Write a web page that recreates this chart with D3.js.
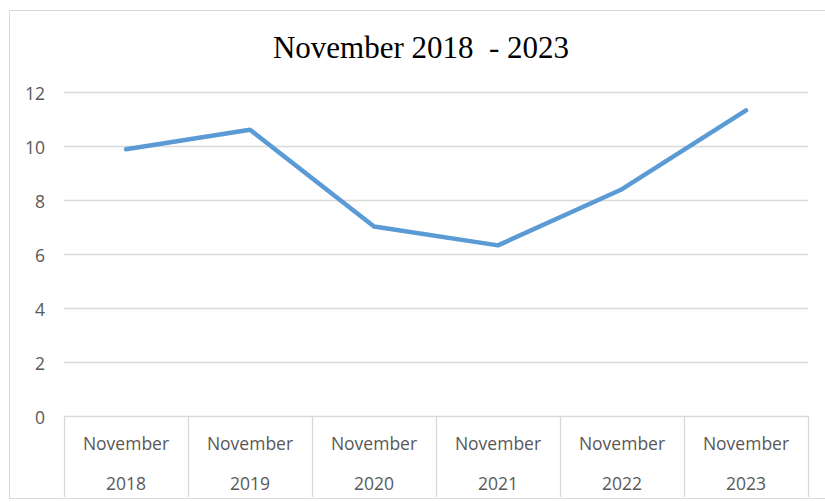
<!DOCTYPE html>
<html><head><meta charset="utf-8">
<script src="https://cdn.jsdelivr.net/npm/d3@7"></script>
<style>html,body{margin:0;padding:0;background:#fff;}svg{display:block;}</style>
</head><body>
<svg id="c" width="825" height="502"></svg>
<script>
const categories = ["November 2018","November 2019","November 2020","November 2021","November 2022","November 2023"];
const values = [9.88, 10.6, 7.02, 6.32, 8.4, 11.32];
const yTicks = [0,2,4,6,8,10,12];
const title = "November 2018\u00a0 - 2023";

const svg = d3.select("#c");
const m = {left:64, right:808, top:92, bottom:416};
const sansFont = "'Open Sans', 'Liberation Sans', sans-serif";

// outer border
svg.append("rect").attr("x",9.5).attr("y",10.5).attr("width",830).attr("height",488)
  .attr("fill","none").attr("stroke","#d9d9d9").attr("stroke-width",1);

const x = d3.scaleBand().domain(categories).range([m.left, m.right]).padding(0);
const y = d3.scaleLinear().domain([0,12]).range([m.bottom, m.top]);

// gridlines
svg.append("g").selectAll("line").data(yTicks.filter(d=>d>0)).join("line")
  .attr("x1",m.left).attr("x2",m.right)
  .attr("y1",d=>Math.round(y(d))+0.5).attr("y2",d=>Math.round(y(d))+0.5)
  .attr("stroke","#d9d9d9").attr("stroke-width",1.3);

// y axis labels
svg.append("g").selectAll("text").data(yTicks).join("text")
  .attr("x",45).attr("y",d=>y(d)+7.5).attr("text-anchor","end")
  .attr("font-family",sansFont).attr("font-size",17.5)
  .attr("fill","#595959").text(d=>d);

// x axis baseline
svg.append("line").attr("x1",m.left).attr("x2",m.right)
  .attr("y1",m.bottom+0.5).attr("y2",m.bottom+0.5).attr("stroke","#d9d9d9").attr("stroke-width",1.3);

// category separators
const seps = categories.map(c=>x(c)).concat([x(categories[categories.length-1])+x.bandwidth()]);
svg.append("g").selectAll("line").data(seps).join("line")
  .attr("x1",d=>Math.round(d)+0.5).attr("x2",d=>Math.round(d)+0.5)
  .attr("y1",m.bottom).attr("y2",497)
  .attr("stroke","#d9d9d9").attr("stroke-width",1.3);

// category labels
const lab = svg.append("g").selectAll("text").data(categories).join("text")
  .attr("text-anchor","middle")
  .attr("font-family",sansFont).attr("font-size",17.5)
  .attr("fill","#595959");
lab.append("tspan").attr("x",d=>x(d)+x.bandwidth()/2).attr("y",450).text(d=>d.split(" ")[0]);
lab.append("tspan").attr("x",d=>x(d)+x.bandwidth()/2).attr("y",490).text(d=>d.split(" ")[1]);

// line
const line = d3.line().x((d,i)=>x(categories[i])+x.bandwidth()/2).y(d=>y(d));
svg.append("path").datum(values).attr("d",line)
  .attr("fill","none").attr("stroke","#5b9bd5").attr("stroke-width",4.5)
  .attr("stroke-linejoin","round").attr("stroke-linecap","round");

// title
svg.append("text").attr("x",421).attr("y",58).attr("text-anchor","middle")
  .attr("font-family","'Liberation Serif', 'Times New Roman', serif").attr("font-size",31)
  .attr("fill","#000").text(title);
</script>
</body></html>
